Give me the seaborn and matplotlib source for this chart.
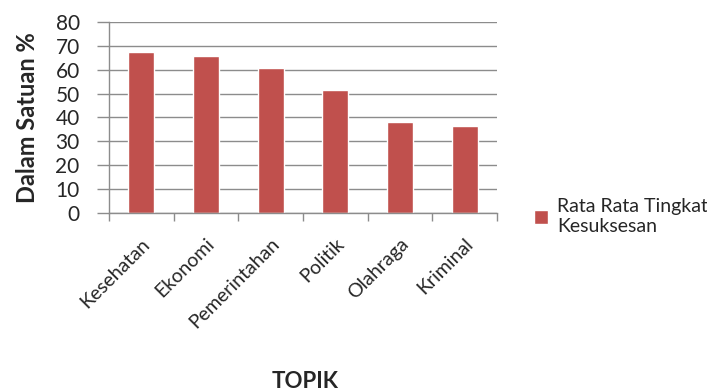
import matplotlib
matplotlib.use("Agg")
import matplotlib.pyplot as plt
import seaborn as sns
import pandas as pd
import numpy as np

topik = ["Kesehatan", "Ekonomi", "Pemerintahan", "Politik", "Olahraga", "Kriminal"]
nilai = [67.2, 65.7, 60.6, 51.4, 37.9, 36.4]
seri = "Rata Rata Tingkat\nKesuksesan"

df = pd.DataFrame({"Topik": topik, "Nilai": nilai, "Seri": seri})

sns.set_style("white")
plt.rcParams["font.family"] = ["Lato", "DejaVu Sans"]

fig = plt.figure(figsize=(7.07, 3.92), dpi=100)
ax = fig.add_axes([0.154, 0.457, 0.549, 0.487])

sns.barplot(data=df, x="Topik", y="Nilai", hue="Seri",
            palette=["#c0504d"], width=0.4, ax=ax, saturation=1)

ax.set_ylim(0, 80)
ax.set_yticks(range(0, 81, 10))
ax.set_xlim(-0.5, len(topik) - 0.5)
ax.yaxis.grid(True, color="#8c8c8c", linewidth=1)
ax.set_axisbelow(True)
for s in ["top", "right"]:
    ax.spines[s].set_visible(False)
for s in ["left", "bottom"]:
    ax.spines[s].set_color("#8c8c8c")
    ax.spines[s].set_linewidth(1)

ax.tick_params(axis="y", left=True, length=9, width=1, color="#8c8c8c",
               labelsize=15, pad=12)
ax.set_xticks(np.arange(len(topik)))
ax.set_xticklabels(topik, rotation=45, ha="right", rotation_mode="anchor", fontsize=14)
ax.tick_params(axis="x", which="major", bottom=False, length=0, pad=16)
ax.set_xticks(np.arange(-0.5, len(topik)), minor=True)
ax.tick_params(axis="x", which="minor", bottom=True, length=6, width=1, color="#8c8c8c")

ax.set_ylabel("Dalam Satuan %", fontsize=17, fontweight="bold", labelpad=12)
ax.set_xlabel("")
fig.text(0.431, 0.028, "TOPIK", fontsize=16, fontweight="bold", ha="center", va="center")

ax.legend(loc="center left", bbox_to_anchor=(1.07, -0.02), frameon=False,
          fontsize=14, handlelength=0.75, handleheight=0.75, handletextpad=0.45,
          borderpad=0, labelspacing=0.3)

fig.savefig("out.png", dpi=100)
